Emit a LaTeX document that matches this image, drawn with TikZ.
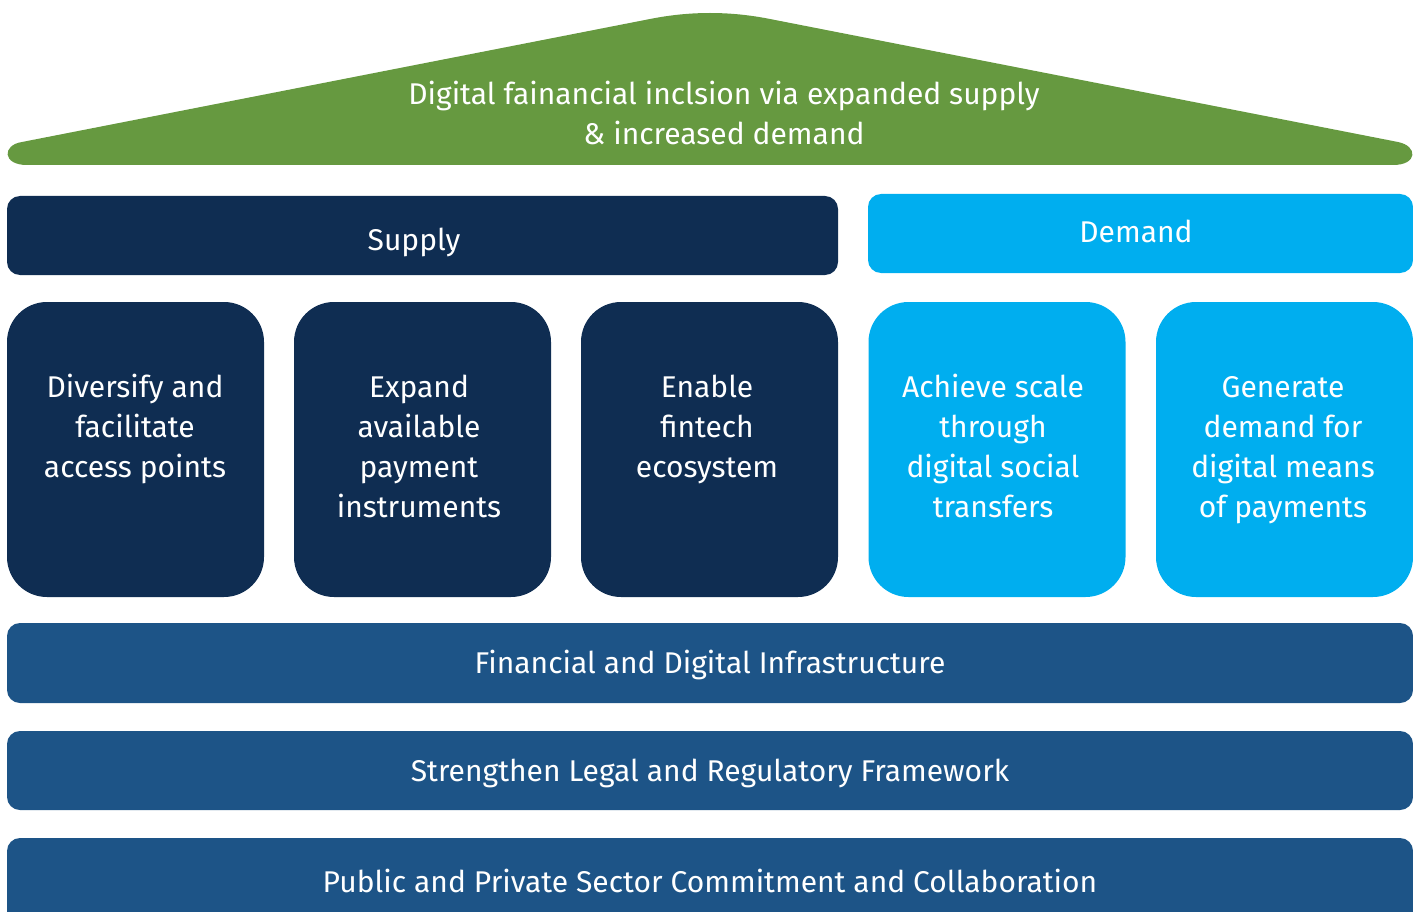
\documentclass[tikz,border=0pt]{standalone}
\usepackage{fontspec}
\setmainfont{Fira Sans}
\definecolor{roofgreen}{HTML}{669940}
\definecolor{navy}{HTML}{0F2D52}
\definecolor{sky}{HTML}{00AEEF}
\definecolor{midblue}{HTML}{1D5487}
\tikzset{
  bar/.style={rectangle, rounded corners=13pt, inner sep=0pt, minimum height=79pt},
  pillar/.style={rectangle, rounded corners=40pt, inner sep=0pt, minimum width=257pt, minimum height=295pt},
  lbl/.style={text=white, inner sep=0pt, anchor=base, font=\fontsize{30}{40}\selectfont},
}
\newcommand{\mlines}[1]{\parbox[t]{700pt}{\centering\fontsize{30}{40}\selectfont #1}}
\begin{document}
\begin{tikzpicture}[x=1pt, y=-1pt]
\useasboundingbox (0,0) rectangle (1413,912);
\clip (0,0) rectangle (1413,912);
% roof
\fill[roofgreen] (27,165) .. controls (2,165) and (2,145) .. (22,142)
  -- (650,19) .. controls (690,11) and (730,11) .. (770,19)
  -- (1398,142) .. controls (1418,146) and (1418,165) .. (1393,165) -- cycle;
\node[lbl] (rooftext) at (724,105) {\mlines{Digital fainancial inclsion via expanded supply\\\& increased demand}};
% supply / demand bars
\node[bar, fill=navy, minimum width=831pt] (supply) at (422.5,235.5) {};
\node[lbl] (supplyt) at (414,251) {Supply};
\node[bar, fill=sky, minimum width=545pt] (demand) at (1140.5,233.5) {};
\node[lbl] (demandt) at (1136,242) {Demand};
% pillars
\node[pillar, fill=navy] (p1) at (135.5,449.5) {};
\node[pillar, fill=navy] (p2) at (422.5,449.5) {};
\node[pillar, fill=navy] (p3) at (709.5,449.5) {};
\node[pillar, fill=sky] (p4) at (997,449.5) {};
\node[pillar, fill=sky] (p5) at (1284.5,449.5) {};
\node[lbl] (p1t) at (135,397) {\mlines{Diversify and\\facilitate\\access points}};
\node[lbl] (p2t) at (419,397) {\mlines{Expand\\available\\payment\\instruments}};
\node[lbl] (p3t) at (707,397) {\mlines{Enable\\fintech\\ecosystem}};
\node[lbl] (p4t) at (993,397) {\mlines{Achieve scale\\through\\digital social\\transfers}};
\node[lbl] (p5t) at (1283,397) {\mlines{Generate\\demand for\\digital means\\of payments}};
% foundation bars
\node[bar, fill=midblue, minimum width=1406pt, minimum height=80pt] (infra) at (710,663) {};
\node[lbl] (infrat) at (710,673) {Financial and Digital Infrastructure};
\node[bar, fill=midblue, minimum width=1406pt] (legal) at (710,770.5) {};
\node[lbl] (legalt) at (710,781) {Strengthen Legal and Regulatory Framework};
\node[bar, fill=midblue, minimum width=1406pt, minimum height=90pt] (public) at (710,883) {};
\node[lbl] (publict) at (710,892) {Public and Private Sector Commitment and Collaboration};
\end{tikzpicture}
\end{document}
